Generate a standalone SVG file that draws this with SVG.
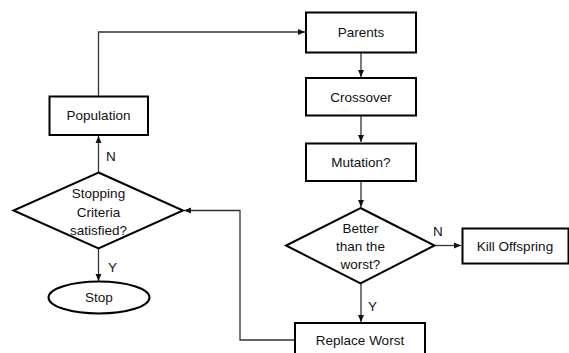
<svg xmlns="http://www.w3.org/2000/svg" width="569" height="353" viewBox="0 0 569 353">
<defs>
<marker id="arr" markerUnits="userSpaceOnUse" markerWidth="8" markerHeight="8" viewBox="0 0 8 8" refX="7" refY="4" orient="auto">
<path d="M0,1 L7,4 L0,7 Z" fill="#111"/>
</marker>
</defs>
<style>
.node{fill:#fff;stroke:#000;stroke-width:2}
.t{font-family:"Liberation Sans",Arial,sans-serif;font-size:13.5px;fill:#111;text-anchor:middle}
.lbl{font-family:"Liberation Sans",Arial,sans-serif;font-size:13.5px;fill:#111}
.c{fill:none;stroke:#333;stroke-width:1.3}
</style>
<rect width="569" height="353" fill="#fff"/>
<g id="connectors">
<path class="c" d="M98.5,96 V32 H305" marker-end="url(#arr)"/>
<path class="c" d="M361,52 V77" marker-end="url(#arr)"/>
<path class="c" d="M361,115 V142" marker-end="url(#arr)"/>
<path class="c" d="M361,181 V207" marker-end="url(#arr)"/>
<path class="c" d="M434,245.5 H461" marker-end="url(#arr)"/>
<path class="c" d="M361,283.5 V322" marker-end="url(#arr)"/>
<path class="c" d="M295,340 H240 V210.5 H184" marker-end="url(#arr)"/>
<path class="c" d="M98.5,172.5 V136" marker-end="url(#arr)"/>
<path class="c" d="M98.5,248.5 V281" marker-end="url(#arr)"/>
<text class="lbl" x="106" y="161">N</text>
<text class="lbl" x="108" y="272">Y</text>
<text class="lbl" x="433" y="236">N</text>
<text class="lbl" x="368" y="311">Y</text>
</g>
<g id="parents"><rect class="node" x="306" y="12.5" width="110" height="40"/><text class="t" x="361" y="37">Parents</text></g>
<g id="crossover"><rect class="node" x="306" y="78" width="110" height="37.5"/><text class="t" x="361" y="101.5">Crossover</text></g>
<g id="mutation"><rect class="node" x="306" y="143.5" width="110" height="37.5"/><text class="t" x="361" y="167">Mutation?</text></g>
<g id="better"><polygon class="node" points="360.5,208 434.5,245.5 360.5,283.5 286,245.5"/><text class="t" x="360.5" y="233">Better</text><text class="t" x="360.5" y="251">than the</text><text class="t" x="360.5" y="269">worst?</text></g>
<g id="kill"><rect class="node" x="462.5" y="228.5" width="106" height="35"/><text class="t" x="515" y="250.5">Kill Offspring</text></g>
<g id="replace"><rect class="node" x="295" y="323" width="130" height="40"/><text class="t" x="360" y="345">Replace Worst</text></g>
<g id="population"><rect class="node" x="49.5" y="96.5" width="98.5" height="38.5"/><text class="t" x="98.5" y="120">Population</text></g>
<g id="stopping"><polygon class="node" points="98.5,172.5 183,210.5 98.5,248.5 13.5,210.5"/><text class="t" x="98.5" y="198">Stopping</text><text class="t" x="98.5" y="216.5">Criteria</text><text class="t" x="98.5" y="235">satisfied?</text></g>
<g id="stop"><ellipse class="node" cx="99" cy="297.5" rx="50.5" ry="16"/><text class="t" x="99" y="302">Stop</text></g>
</svg>
